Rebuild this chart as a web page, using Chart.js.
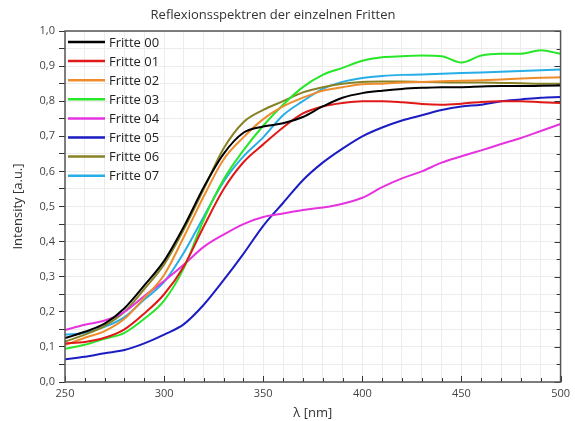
<!DOCTYPE html>
<html>
<head>
<meta charset="utf-8">
<script src="https://cdn.jsdelivr.net/npm/chart.js@4"></script>
<style>
  html, body { margin: 0; padding: 0; background: #fff; }
  #wrap { width: 575px; height: 421px; }
</style>
</head>
<body>
<div id="wrap"><canvas id="spectra"></canvas></div>
<script>
// wavelengths in nm
const wavelengths = [250,260,270,280,290,300,310,320,330,340,350,360,370,380,390,400,410,420,430,440,450,460,470,480,490,500];

const fritte00 = [0.125,0.143,0.166,0.21,0.275,0.345,0.443,0.555,0.65,0.71,0.728,0.737,0.755,0.785,0.81,0.823,0.83,0.835,0.838,0.84,0.84,0.842,0.843,0.843,0.844,0.845];
const fritte01 = [0.11,0.114,0.126,0.15,0.195,0.25,0.33,0.443,0.549,0.626,0.677,0.725,0.765,0.785,0.795,0.8,0.8,0.797,0.792,0.79,0.793,0.798,0.8,0.8,0.797,0.795];
const fritte02 = [0.105,0.126,0.145,0.18,0.24,0.305,0.414,0.529,0.634,0.697,0.749,0.785,0.81,0.83,0.84,0.848,0.85,0.853,0.855,0.857,0.858,0.86,0.862,0.865,0.867,0.868];
const fritte03 = [0.095,0.106,0.123,0.14,0.18,0.232,0.325,0.463,0.577,0.66,0.73,0.79,0.84,0.875,0.895,0.915,0.925,0.928,0.93,0.928,0.91,0.93,0.935,0.935,0.945,0.935];
const fritte04 = [0.148,0.163,0.175,0.2,0.245,0.288,0.335,0.385,0.42,0.45,0.47,0.48,0.49,0.497,0.508,0.525,0.555,0.58,0.6,0.625,0.643,0.66,0.678,0.695,0.715,0.735];
const fritte05 = [0.065,0.072,0.082,0.091,0.11,0.135,0.165,0.22,0.29,0.365,0.445,0.51,0.575,0.625,0.665,0.7,0.725,0.745,0.76,0.775,0.785,0.79,0.8,0.805,0.81,0.812];
const fritte06 = [0.115,0.135,0.16,0.2,0.265,0.335,0.435,0.55,0.665,0.74,0.775,0.8,0.825,0.84,0.85,0.855,0.856,0.856,0.855,0.854,0.853,0.853,0.852,0.851,0.85,0.85];
const fritte07 = [0.135,0.14,0.157,0.185,0.235,0.285,0.369,0.471,0.571,0.643,0.697,0.76,0.8,0.835,0.855,0.866,0.872,0.875,0.876,0.878,0.88,0.882,0.884,0.886,0.888,0.89];

const labels = ['Fritte 00','Fritte 01','Fritte 02','Fritte 03','Fritte 04','Fritte 05','Fritte 06','Fritte 07'];
const series = [fritte00, fritte01, fritte02, fritte03, fritte04, fritte05, fritte06, fritte07];
const colors = ['#000000','#e01818','#ee8c2c','#28e628','#e633e0','#1c1cc4','#888226','#28aee6'];

const FONT = '"Open Sans", "DejaVu Sans", sans-serif';

// frame, inward ticks, title and the in-plot legend
const decorPlugin = {
  id: 'decor',
  afterDraw(chart) {
    const ctx = chart.ctx;
    const a = chart.chartArea;
    const x = chart.scales.x, y = chart.scales.y;
    ctx.save();

    ctx.strokeStyle = '#333';
    ctx.lineWidth = 1;
    for (let i = 0; i <= 20; i++) {
      const py = Math.round(y.getPixelForValue(i * 0.05)) + 0.5;
      const len = i % 2 === 0 ? 6 : 4;
      ctx.beginPath(); ctx.moveTo(a.right - len, py); ctx.lineTo(a.right, py); ctx.stroke();
    }
    for (let w = 250; w <= 500; w += 10) {
      const px = Math.round(x.getPixelForValue(w)) + 0.5;
      const len = w % 50 === 0 ? 6 : 4;
      ctx.beginPath(); ctx.moveTo(px, a.bottom - len); ctx.lineTo(px, a.bottom); ctx.stroke();
    }

    ctx.strokeStyle = '#555';
    ctx.lineWidth = 1.5;
    ctx.strokeRect(a.left, a.top, a.right - a.left, a.bottom - a.top);

    ctx.fillStyle = '#333';
    ctx.font = '13px ' + FONT;
    ctx.textAlign = 'center';
    ctx.textBaseline = 'middle';
    ctx.fillText('Reflexionsspektren der einzelnen Fritten', 273, 15);

    ctx.textAlign = 'left';
    chart.data.datasets.forEach((ds, i) => {
      const ly = 42 + i * 19.1;
      ctx.strokeStyle = ds.borderColor;
      ctx.lineWidth = 2.5;
      ctx.beginPath(); ctx.moveTo(68, ly); ctx.lineTo(105, ly); ctx.stroke();
      ctx.fillStyle = '#222';
      ctx.fillText(ds.label, 109, ly + 1);
    });
    ctx.restore();
  }
};

new Chart(document.getElementById('spectra'), {
  type: 'line',
  data: {
    datasets: series.map((s, i) => ({
      label: labels[i],
      data: wavelengths.map((w, j) => ({ x: w, y: s[j] })),
      borderColor: colors[i],
      backgroundColor: colors[i],
      borderWidth: 2,
      pointRadius: 0,
      cubicInterpolationMode: 'monotone',
      fill: false
    }))
  },
  options: {
    responsive: true,
    maintainAspectRatio: false,
    animation: false,
    layout: { padding: { top: 31, right: 10, left: 10, bottom: 0 } },
    plugins: {
      legend: { display: false },
      title: { display: false },
      tooltip: { enabled: false }
    },
    scales: {
      x: {
        type: 'linear',
        min: 250,
        max: 500,
        afterFit: s => { s.height = 39; },
        grid: { color: '#ececec', drawTicks: false },
        border: { display: false },
        ticks: {
          stepSize: 10,
          autoSkip: false,
          maxRotation: 0,
          padding: 5,
          color: '#444',
          font: { family: FONT, size: 11 },
          callback: v => (v % 50 === 0 ? String(v) : '')
        },
        title: {
          display: true,
          text: 'λ [nm]',
          color: '#333',
          font: { family: FONT, size: 13 },
          padding: { top: 0, bottom: 0 }
        }
      },
      y: {
        min: 0,
        max: 1,
        afterFit: s => { s.width = 55; },
        grid: { color: '#ececec', tickLength: 6, tickColor: '#333' },
        border: { display: false },
        ticks: {
          stepSize: 0.05,
          autoSkip: false,
          padding: 4,
          color: '#444',
          font: { family: FONT, size: 11 },
          callback: v => {
            const k = Math.round(v * 100);
            return k % 10 === 0 ? (k / 100).toFixed(1).replace('.', ',') : '';
          }
        },
        title: {
          display: true,
          text: 'Intensity [a.u.]',
          color: '#333',
          font: { family: FONT, size: 13 },
          padding: { top: 0, bottom: 4 }
        }
      }
    }
  },
  plugins: [decorPlugin]
});
</script>
</body>
</html>
